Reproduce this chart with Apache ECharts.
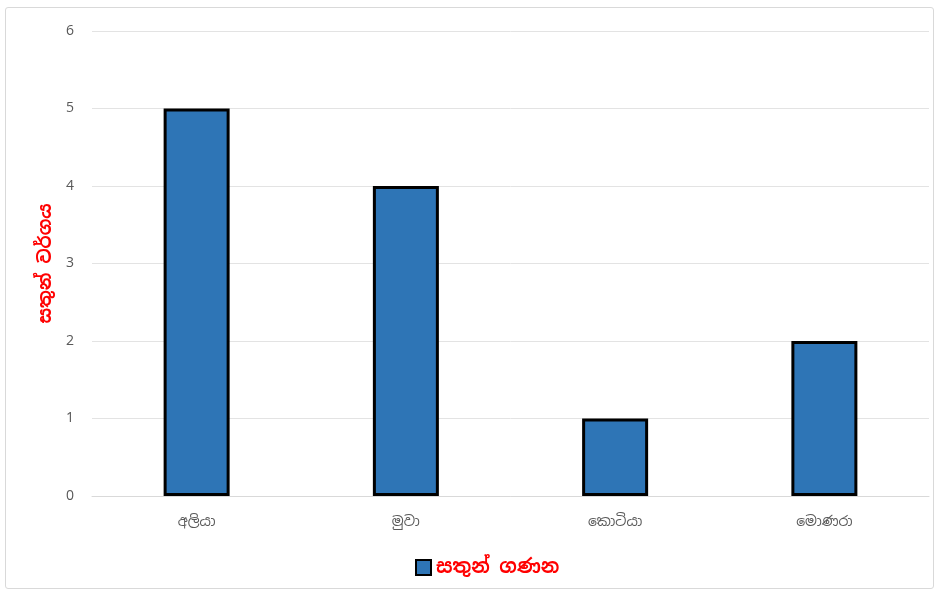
<!DOCTYPE html>
<html><head><meta charset="utf-8">
<script src="https://cdn.jsdelivr.net/npm/echarts@6/dist/echarts.min.js"></script>
<style>
html,body{margin:0;padding:0;background:#fff;}
#frame{position:absolute;left:5px;top:7px;width:929px;height:582px;border:1px solid #d9d9d9;border-radius:3px;box-sizing:border-box;}
#c{position:absolute;left:0;top:0;width:939px;height:595px;}
</style></head>
<body>
<div id="frame"></div>
<div id="c"></div>
<script>
const categories = ['අලියා', 'මුවා', 'කොටියා', 'මොණරා'];
const counts = [5, 4, 1, 2];
const seriesName = 'සතුන් ගණන';
const yAxisTitle = 'සතුන් වර්ගය';
const font = '"Noto Sans Sinhala","Noto Sans","DejaVu Sans",sans-serif';

const chart = echarts.init(document.getElementById('c'), null, {renderer:'canvas'});
chart.setOption({
  backgroundColor: 'transparent',
  animation: false,
  grid: {left: 92, right: 10, top: 31, bottom: 99, containLabel: false},
  legend: {
    data: [seriesName], bottom: 13, left: 410,
    itemWidth: 15, itemHeight: 15, itemGap: 6,
    textStyle: {color: '#ff0000', fontSize: 19, fontWeight: 'bold', fontFamily: font},
    icon: 'rect'
  },
  xAxis: {
    type: 'category', data: categories,
    axisLine: {show: true, lineStyle: {color: '#d9d9d9', width: 1}},
    axisTick: {show: false},
    axisLabel: {color: '#595959', fontSize: 14, margin: 19, fontFamily: font}
  },
  yAxis: {
    type: 'value', min: 0, max: 6, interval: 1,
    name: yAxisTitle, nameLocation: 'middle', nameGap: 35, nameRotate: 90,
    nameTextStyle: {color: '#ff0000', fontSize: 18, fontWeight: 'bold', fontFamily: font},
    axisLine: {show: false}, axisTick: {show: false},
    axisLabel: {color: '#595959', fontSize: 14, margin: 18, fontFamily: font},
    splitLine: {lineStyle: {color: '#e3e3e3', width: 1}}
  },
  series: [{
    name: seriesName, type: 'bar', data: counts, barWidth: 66,
    itemStyle: {color: '#2e75b6', borderColor: '#000', borderWidth: 3}
  }]
});
</script>
</body></html>
